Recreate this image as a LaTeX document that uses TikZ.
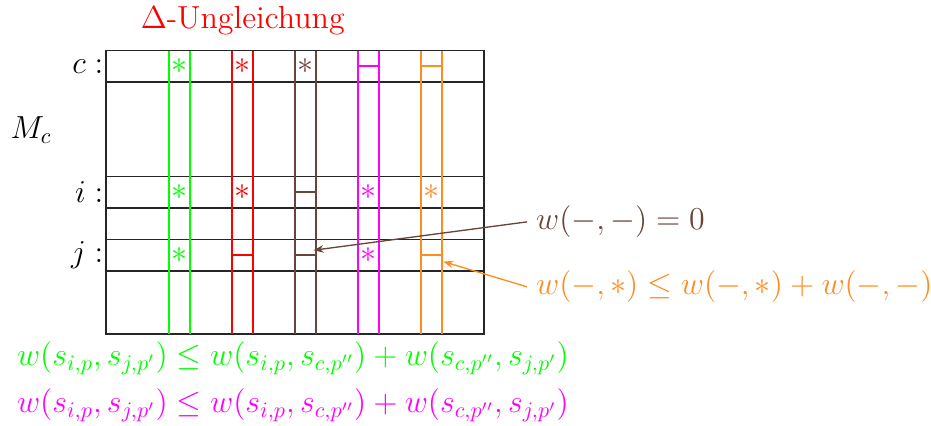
\documentclass[tikz,border=0pt]{standalone}
\usepackage{amsmath}
\usepackage{amssymb}
\usetikzlibrary{arrows.meta,positioning,calc}
\definecolor{triGreen}{RGB}{0,255,0}
\definecolor{triRed}{RGB}{255,0,0}
\definecolor{triMagenta}{RGB}{255,0,255}
\definecolor{triBrown}{RGB}{105,68,58}
\definecolor{triOrange}{RGB}{255,140,30}
\tikzset{
  grid line/.style={draw=black!85,thick},
  col line/.style={thick},
  row label/.style={anchor=east,font=\Large,inner sep=1pt},
  cell mark/.style={font=\Large,inner sep=0pt},
  note text/.style={anchor=west,font=\Large,inner sep=4pt},
  note arrow/.style={-{Stealth[length=1.6mm,width=1.2mm]},semithick}
}

\begin{document}
\begin{tikzpicture}
    \useasboundingbox (-1.683,-1.444) rectangle (13.095,5.302);
    % matrix M_c
    \draw[grid line] (0,0) rectangle (6,4.5);
    \foreach \y in {1,1.5,2,2.5,4}
      \draw[grid line] (0,\y) -- (6,\y);
    \foreach \x/\col in {1/triGreen,2/triRed,3/triBrown,4/triMagenta,5/triOrange} {
      \draw[col line,draw=\col] (\x,0) -- (\x,4.5);
      \draw[col line,draw=\col] (\x+1/3,0) -- (\x+1/3,4.5);
    }
    \node[row label] (rowc) at (0,4.25) {$c:$};
    \node[row label] (rowi) at (0,2.25) {$i:$};
    \node[row label] (rowj) at (0,1.25) {$j:$};
    \node[font=\Large] (mc) at (-1.19,3.24) {$M_c$};
    \node[font=\Large,text=triRed] (title) at (2.17,4.98) {$\Delta$-Ungleichung};
    % cell entries
    \foreach \x/\col/\y/\nm in {1/triGreen/4.25/gc,2/triRed/4.25/rc,3/triBrown/4.25/bc,
        1/triGreen/2.25/gi,2/triRed/2.25/ri,4/triMagenta/2.25/mi,5/triOrange/2.25/oi,
        1/triGreen/1.25/gj,4/triMagenta/1.25/mj}
      \node[cell mark,text=\col] (\nm) at (\x+1/6,\y) {$*$};
    \foreach \x/\col/\y/\nm in {4/triMagenta/4.25/mcd,5/triOrange/4.25/ocd,3/triBrown/2.25/bid,
        2/triRed/1.25/rjd,3/triBrown/1.25/bjd,5/triOrange/1.25/ojd}
      \draw[col line,draw=\col] (\x,\y) -- ++(1/3,0) coordinate (\nm);
    % notes
    \node[note text,text=triBrown] (zero) at (6.68,1.78) {$w(-,-)=0$};
    \node[note text,text=triOrange] (tri) at (6.68,0.75) {$w(-,*)\leq w(-,*)+w(-,-)$};
    \draw[note arrow,triBrown] (zero.west) -- ($(bjd)+(-0.04,0.08)$);
    \draw[note arrow,triOrange] (tri.west) -- ($(ojd)+(0.02,-0.1)$);
    \node[anchor=west,font=\Large,inner sep=0pt,text=triGreen] (ineqg) at (-1.42,-0.38) {$w(s_{i,p},s_{j,p'})\leq w(s_{i,p},s_{c,p''})+w(s_{c,p''},s_{j,p'})$};
    \node[anchor=west,font=\Large,inner sep=0pt,text=triMagenta] (ineqm) at (-1.42,-1.13) {$w(s_{i,p},s_{j,p'})\leq w(s_{i,p},s_{c,p''})+w(s_{c,p''},s_{j,p'})$};
\end{tikzpicture}
\end{document}
